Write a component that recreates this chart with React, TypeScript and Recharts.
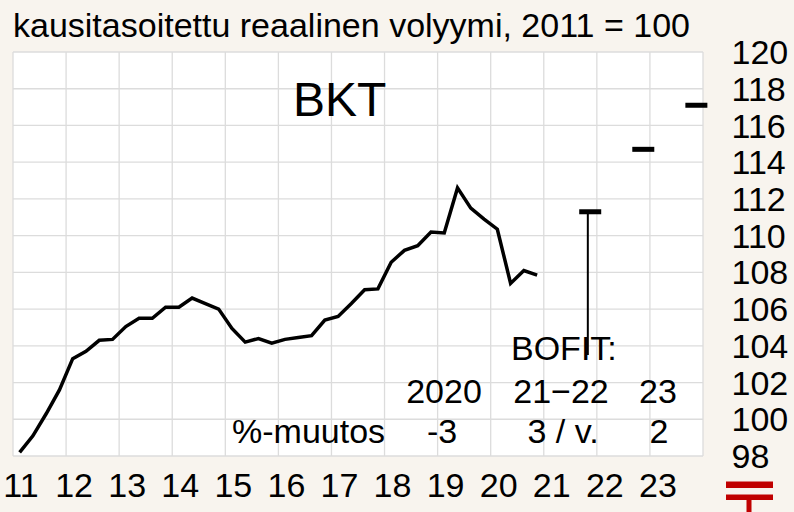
import React from 'react';
import { ComposedChart, Line, Scatter, XAxis, YAxis, CartesianGrid } from 'recharts';

// Quarterly GDP volume index, seasonally adjusted, 2011 = 100
const years = [2011, 2012, 2013, 2014, 2015, 2016, 2017, 2018, 2019, 2020];
const gdpIndex = [
  98.2, 99.1, 100.3, 101.6,
  103.3, 103.7, 104.3, 104.35,
  105.05, 105.5, 105.5, 106.1,
  106.1, 106.6, 106.3, 106.0,
  104.95, 104.2, 104.4, 104.15,
  104.35, 104.45, 104.55, 105.4,
  105.6, 106.3, 107.05, 107.1,
  108.55, 109.2, 109.45, 110.2,
  110.15, 112.6, 111.5, 110.9,
  110.35, 107.4, 108.1, 107.85,
];

// BOFIT forecast: year-end (Q4) levels
const forecastYears = [2021, 2022, 2023];
const forecastLevels = [111.3, 114.7, 117.1];

// pointer from the "21-22" label up to the 2021 level
const pointerYear = 2021.83;
const pointerValues = [103.5, 111.3];

const xTicks = [2011, 2012, 2013, 2014, 2015, 2016, 2017, 2018, 2019, 2020, 2021, 2022, 2023, 2024];
const yTicks = [98, 100, 102, 104, 106, 108, 110, 112, 114, 116, 118, 120];

const gdpData = gdpIndex.map((v, i) => ({
  t: years[Math.floor(i / 4)] + ((i % 4) + 0.5) / 4,
  v,
}));
const forecastData = forecastYears.map((y, i) => ({ t: y + 0.875, v: forecastLevels[i] }));
const pointerData = pointerValues.map((v) => ({ t: pointerYear, v }));

const FONT = '"Liberation Sans", Arial, sans-serif';
const BG = '#f8f4ee';
const FS = 34;

const XTick = (props: any) => {
  const { x, y, payload } = props;
  if (payload.value === 2024) return null;
  return (
    <text x={x + 8} y={y + 41} textAnchor="middle" fontSize={FS} fontFamily={FONT} fill="#000">
      {String(payload.value).slice(2)}
    </text>
  );
};

const YTick = (props: any) => {
  const { x, y, payload } = props;
  return (
    <text x={x + 28.5} y={y} dy="0.355em" textAnchor="start" fontSize={FS} fontFamily={FONT} fill="#000">
      {payload.value}
    </text>
  );
};

const DashShape = (props: any) => {
  const { cx, cy } = props;
  return <rect x={cx - 11} y={cy - 2.5} width={22} height={5} fill="#000" />;
};

export default function App() {
  return (
    <div style={{ position: 'absolute', left: 0, top: 0, width: 794, height: 512, background: BG, overflow: 'hidden' }}>
      <ComposedChart width={794} height={512} margin={{ top: 52, right: 0, left: 13, bottom: 0 }}>
        <CartesianGrid stroke="#dcdcdc" strokeWidth={1.3} fill="#ffffff" />
        <XAxis
          dataKey="t"
          type="number"
          domain={[2011, 2024]}
          ticks={xTicks}
          interval={0}
          height={56}
          tickLine={false}
          axisLine={false}
          tickSize={0}
          tickMargin={0}
          tick={<XTick />}
        />
        <YAxis
          dataKey="v"
          type="number"
          orientation="right"
          domain={[98, 120]}
          ticks={yTicks}
          interval={0}
          width={91}
          tickLine={false}
          axisLine={false}
          tickSize={0}
          tickMargin={0}
          tick={<YTick />}
        />
        <Line data={gdpData} dataKey="v" stroke="#000" strokeWidth={3.5} dot={false} isAnimationActive={false} />
        <Line data={pointerData} dataKey="v" stroke="#000" strokeWidth={2} dot={false} isAnimationActive={false} />
        <Scatter data={forecastData} dataKey="v" fill="#000" shape={<DashShape />} isAnimationActive={false} />
      </ComposedChart>
      <svg width={794} height={512} style={{ position: 'absolute', left: 0, top: 0, pointerEvents: 'none' }} fontFamily={FONT} fill="#000">
        <text x={13} y={36.5} fontSize={FS}>kausitasoitettu reaalinen volyymi, 2011 = 100</text>
        <text x={293} y={116} fontSize={48}>BKT</text>
        <text x={511} y={360} fontSize={FS}>BOFIT:</text>
        <text x={444} y={402.5} fontSize={FS} textAnchor="middle">2020</text>
        <text x={561} y={402.5} fontSize={FS} textAnchor="middle">21−22</text>
        <text x={658} y={402.5} fontSize={FS} textAnchor="middle">23</text>
        <text x={232} y={443} fontSize={FS}>%-muutos</text>
        <text x={442} y={443} fontSize={FS} textAnchor="middle">-3</text>
        <text x={563} y={443} fontSize={FS} textAnchor="middle">3 / v.</text>
        <text x={659} y={443} fontSize={FS} textAnchor="middle">2</text>
        <rect x={726} y={481.5} width={47} height={6.5} fill="#c00000" />
        <rect x={726} y={494.5} width={47} height={5.5} fill="#c00000" />
        <rect x={746.5} y={500} width={5} height={12} fill="#c00000" />
      </svg>
    </div>
  );
}
